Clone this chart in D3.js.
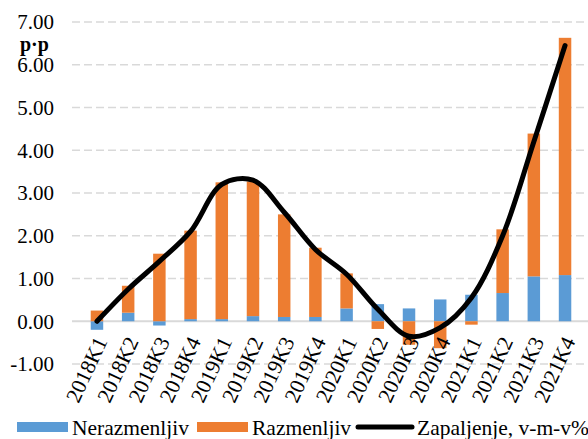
<!DOCTYPE html>
<html>
<head>
<meta charset="utf-8">
<script src="https://cdn.jsdelivr.net/npm/d3@7"></script>
<style>
    body { margin: 0; background: #fff; }
</style>
</head>
<body>
<svg id="chart" width="588" height="439"></svg>
<script>
// quarters on the x axis
const categories = ['2018K1', '2018K2', '2018K3', '2018K4',
    '2019K1', '2019K2', '2019K3', '2019K4',
    '2020K1', '2020K2', '2020K3', '2020K4',
    '2021K1', '2021K2', '2021K3', '2021K4'];

// contributions (p.p)
const nerazmenljiv = [-0.20, 0.20, -0.10, 0.05, 0.05, 0.12, 0.10, 0.10,
    0.30, 0.40, 0.30, 0.51, 0.62, 0.66, 1.05, 1.08];
const razmenljiv = [0.25, 0.63, 1.58, 2.07, 3.20, 3.15, 2.40, 1.62,
    0.82, -0.18, -0.55, -0.63, -0.08, 1.49, 3.34, 5.55];

// inflation y-o-y %
const zapaljenje = [0.00, 0.75, 1.40, 2.10, 3.20, 3.30, 2.55, 1.68,
    1.10, 0.28, -0.35, -0.15, 0.55, 2.00, 4.20, 6.45];

const yTicks = [-1, 0, 1, 2, 3, 4, 5, 6, 7];

const seriesNames = ['Nerazmenljiv', 'Razmenljiv', 'Zapaljenje, v-m-v%'];
const colors = { Nerazmenljiv: '#5b9bd5', Razmenljiv: '#ed7d31' };

const font = 'Liberation Serif';

const svg = d3.select('#chart')
    .attr('font-family', font);

const x = d3.scaleBand()
    .domain(categories)
    .range([72, 590])
    .padding(0.6);

const y = d3.scaleLinear()
    .domain([-1, 7])
    .range([364, 22]);

// gridlines
svg.append('g')
    .selectAll('line')
    .data(yTicks)
    .join('line')
    .attr('x1', 72)
    .attr('x2', 588)
    .attr('y1', d => y(d))
    .attr('y2', d => y(d))
    .attr('stroke', '#d9d9d9')
    .attr('stroke-width', d => d === 0 ? 2 : 1.5)
    .attr('stroke-dasharray', d => d === 0 ? null : '8,4');

// y labels (plain hyphen for negatives, like the original)
svg.append('g')
    .selectAll('text')
    .data(yTicks)
    .join('text')
    .attr('x', 54)
    .attr('y', d => y(d))
    .attr('dy', '0.35em')
    .attr('text-anchor', 'end')
    .attr('font-family', font)
    .attr('font-size', 21)
    .text(d => d.toFixed(2));

svg.append('text')
    .attr('x', 20)
    .attr('y', 51)
    .attr('font-family', font)
    .attr('font-size', 20)
    .attr('font-weight', 'bold')
    .text('p·p');

// stacked bars
const rows = categories.map((c, i) => ({
    cat: c,
    Nerazmenljiv: nerazmenljiv[i],
    Razmenljiv: razmenljiv[i]
}));

const stack = d3.stack()
    .keys(['Nerazmenljiv', 'Razmenljiv'])
    .offset(d3.stackOffsetDiverging);

svg.append('g')
    .selectAll('g')
    .data(stack(rows))
    .join('g')
    .attr('fill', d => colors[d.key])
    .selectAll('rect')
    .data(d => d)
    .join('rect')
    .attr('x', d => x(d.data.cat))
    .attr('width', x.bandwidth())
    .attr('y', d => y(Math.max(d[0], d[1])))
    .attr('height', d => Math.abs(y(d[0]) - y(d[1])));

// line
const line = d3.line()
    .x((d, i) => x(categories[i]) + x.bandwidth() / 2)
    .y(d => y(d))
    .curve(d3.curveCatmullRom.alpha(0.5));

svg.append('path')
    .datum(zapaljenje)
    .attr('d', line)
    .attr('fill', 'none')
    .attr('stroke', '#000')
    .attr('stroke-width', 5)
    .attr('stroke-linecap', 'round');

// x labels
svg.append('g')
    .selectAll('text')
    .data(categories)
    .join('text')
    .attr('transform', d => 'translate(' + (x(d) + x.bandwidth() / 2 + 4) + ',' + 338 + ') rotate(-65)')
    .attr('text-anchor', 'end')
    .attr('dy', '0.35em')
    .attr('font-family', font)
    .attr('font-size', 21.5)
    .text(d => d);

// legend
const legend = svg.append('g');
const legendX = [17, 197, 358];
seriesNames.forEach(function (name, i) {
    if (i < 2) {
        legend.append('rect')
            .attr('x', legendX[i])
            .attr('y', 422)
            .attr('width', 51)
            .attr('height', 10)
            .attr('fill', colors[name]);
    } else {
        legend.append('line')
            .attr('x1', legendX[i])
            .attr('x2', legendX[i] + 54)
            .attr('y1', 427)
            .attr('y2', 427)
            .attr('stroke', '#000')
            .attr('stroke-width', 5)
            .attr('stroke-linecap', 'round');
    }
    legend.append('text')
        .attr('x', legendX[i] + (i < 2 ? 55 : 59))
        .attr('y', 427)
        .attr('dy', '0.35em')
        .attr('font-family', font)
        .attr('font-size', 21.5)
        .text(name);
});
</script>
</body>
</html>
